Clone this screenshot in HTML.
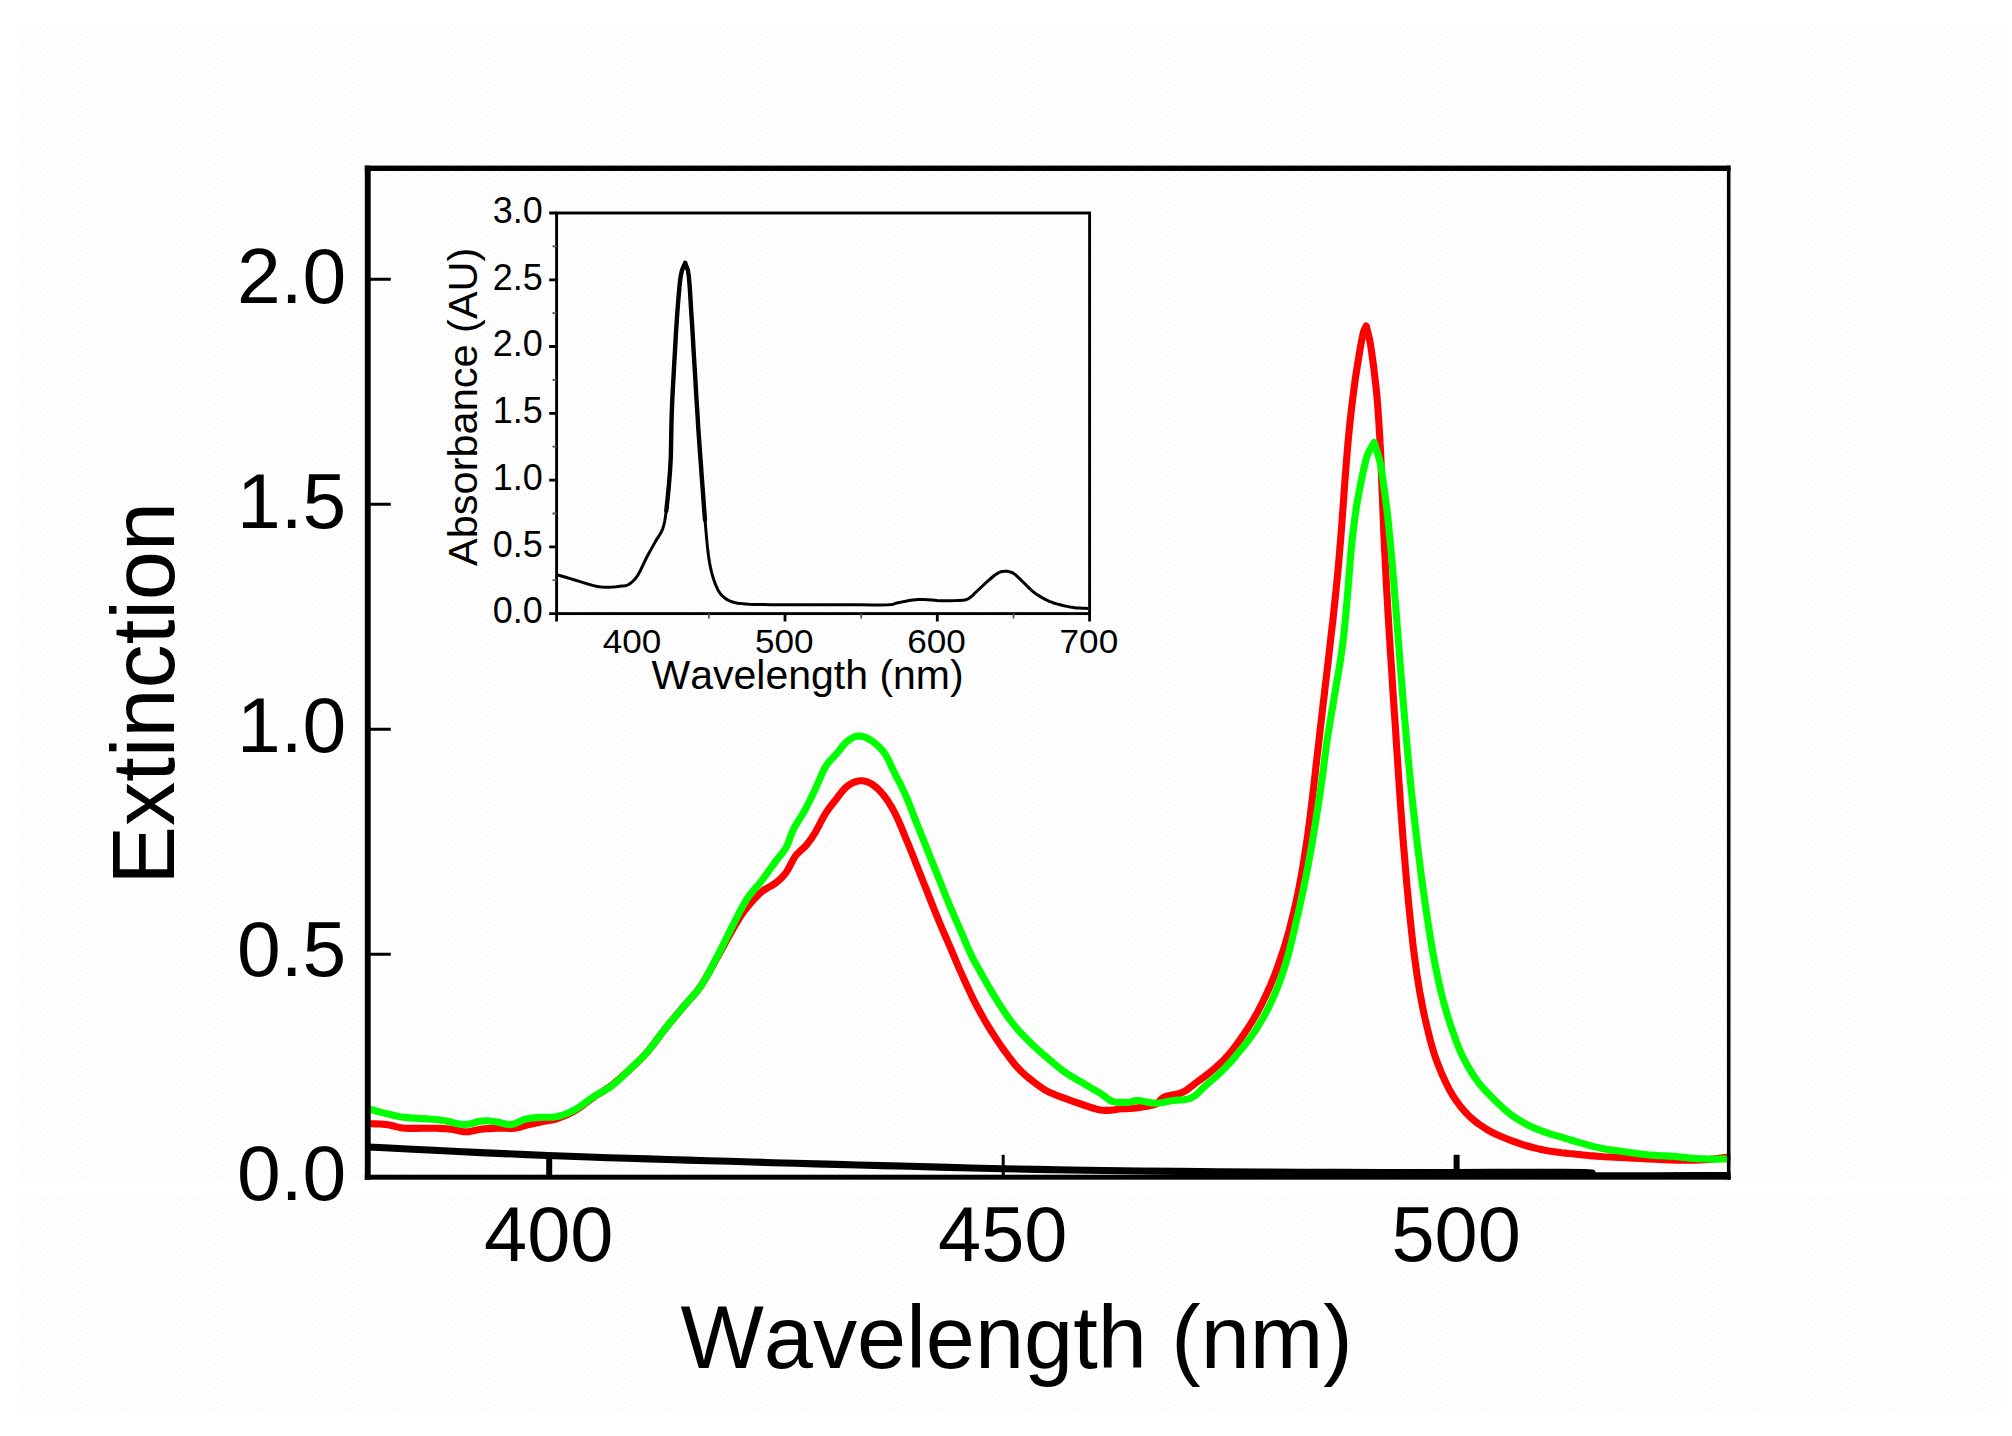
<!DOCTYPE html>
<html lang="en"><head><meta charset="utf-8"><title>Extinction spectra</title>
<style>html,body{margin:0;padding:0;background:#fff;overflow:hidden}body{width:2012px;height:1436px}</style></head>
<body>
<svg width="2012" height="1436" viewBox="0 0 2012 1436" style="display:block">
<rect x="0" y="0" width="2012" height="1436" fill="#ffffff"/>
<defs><clipPath id="pc"><rect x="368" y="168" width="1362.5" height="1011"/></clipPath><pattern id="dz" width="17" height="12" patternUnits="userSpaceOnUse"><rect x="2" y="1" width="1" height="1" fill="#fce2e2"/><rect x="10" y="7" width="1" height="1" fill="#fce2e2"/><rect x="14" y="3" width="1" height="1" fill="#fdeaea"/><rect x="6" y="10" width="1" height="1" fill="#fdeaea"/><rect x="6" y="4" width="1" height="1" fill="#d8f7fc"/><rect x="12" y="10" width="1" height="1" fill="#e2fafd"/></pattern></defs>
<rect x="17" y="24" width="1985" height="1387" fill="#fefefe"/>
<rect x="17" y="24" width="1985" height="1387" fill="url(#dz)"/>
<rect x="17" y="1181" width="1985" height="16" fill="#ffffff"/>
<rect x="546.2" y="1154.8" width="6.0" height="22" fill="#000"/>
<rect x="1001.7" y="1154.8" width="3.0" height="22" fill="#000"/>
<rect x="1453.6" y="1154.8" width="6.0" height="22" fill="#000"/>
<path d="M368.2 279.25 H390.8 M368.2 504.25 H390.8 M368.2 729.25 H390.8 M368.2 954.25 H390.8" stroke="#000" stroke-width="3.2" fill="none"/>
<g clip-path="url(#pc)" fill="none" stroke-linejoin="round" stroke-linecap="butt">
<path d="M364.0 1146.8 L363.0 1146.7 L360.6 1146.6 L361.0 1146.6 L368.0 1147.0 L384.5 1147.8 L407.6 1149.0 L433.5 1150.3 L458.0 1151.5 L480.7 1152.6 L503.6 1153.6 L526.2 1154.6 L548.0 1155.5 L568.7 1156.3 L588.6 1157.0 L608.2 1157.7 L628.0 1158.3 L647.8 1158.9 L667.6 1159.5 L687.5 1160.1 L708.0 1160.7 L729.3 1161.3 L751.1 1162.0 L773.1 1162.7 L795.0 1163.3 L816.0 1163.9 L836.4 1164.4 L857.9 1165.0 L882.0 1165.6 L909.5 1166.3 L939.4 1167.1 L970.8 1168.0 L1003.0 1168.7 L1035.6 1169.4 L1069.1 1170.0 L1103.8 1170.5 L1140.0 1171.0 L1178.5 1171.4 L1218.8 1171.8 L1259.7 1172.1 L1300.0 1172.3 L1340.1 1172.4 L1380.5 1172.5 L1419.9 1172.5 L1457.0 1172.5 L1493.9 1172.4 L1530.4 1172.3 L1562.2 1172.3 L1585.0 1172.5 L1592.1 1173.1 L1587.6 1174.0 L1583.6 1174.9 L1592.0 1175.5 L1618.0 1175.7 L1654.6 1175.7 L1695.3 1175.6 L1734.0 1175.5" stroke="#000" stroke-width="7.1"/>
<path d="M364.0 1123.5 L365.0 1123.5 L365.8 1123.5 L366.7 1123.6 L368.0 1123.6 L369.9 1123.7 L372.6 1123.8 L375.9 1123.9 L379.5 1124.0 L383.3 1124.2 L386.9 1124.6 L390.3 1125.2 L393.6 1126.0 L397.0 1126.9 L400.7 1127.7 L404.9 1128.2 L409.9 1128.4 L415.5 1128.4 L421.3 1128.3 L426.9 1128.2 L431.9 1128.2 L436.1 1128.3 L439.8 1128.4 L443.2 1128.6 L446.5 1128.8 L449.8 1129.1 L453.2 1129.6 L456.4 1130.3 L459.6 1131.0 L462.8 1131.6 L466.0 1131.8 L469.2 1131.6 L472.4 1131.0 L475.5 1130.3 L478.8 1129.6 L482.1 1129.1 L485.6 1128.8 L489.3 1128.6 L493.1 1128.4 L496.7 1128.3 L500.1 1128.2 L503.2 1128.2 L506.1 1128.3 L508.9 1128.4 L511.7 1128.4 L514.5 1128.2 L517.4 1127.7 L520.4 1127.0 L523.3 1126.1 L526.1 1125.3 L528.9 1124.6 L531.5 1124.0 L533.9 1123.5 L536.2 1123.0 L538.7 1122.5 L541.4 1121.9 L544.4 1121.3 L547.5 1120.8 L550.8 1120.2 L554.2 1119.5 L557.6 1118.5 L561.1 1117.2 L564.7 1115.8 L568.3 1114.2 L572.0 1112.3 L575.6 1110.3 L579.2 1108.0 L582.8 1105.4 L586.3 1102.6 L589.9 1099.9 L593.5 1097.3 L597.1 1094.9 L600.7 1092.7 L604.3 1090.4 L607.9 1088.1 L611.5 1085.5 L615.1 1082.6 L618.7 1079.6 L622.2 1076.4 L625.8 1073.1 L629.4 1069.8 L633.0 1066.4 L636.6 1063.1 L640.2 1059.6 L643.8 1055.9 L647.4 1051.9 L651.0 1047.5 L654.6 1042.8 L658.2 1038.0 L661.8 1033.2 L665.4 1028.5 L669.0 1024.1 L672.6 1019.7 L676.1 1015.4 L679.7 1011.2 L683.3 1006.9 L686.9 1002.7 L690.6 998.7 L694.2 994.6 L697.8 990.2 L701.3 985.4 L704.7 980.0 L708.1 974.1 L711.5 968.0 L714.8 961.9 L718.0 956.0 L721.2 950.2 L724.5 944.2 L727.6 938.4 L730.7 932.9 L733.5 928.0 L736.0 923.8 L738.2 920.1 L740.3 916.7 L742.5 913.4 L745.0 910.0 L748.0 906.3 L751.2 902.4 L754.6 898.7 L757.9 895.2 L761.1 892.2 L764.1 889.9 L767.1 888.1 L770.0 886.5 L772.8 885.0 L775.4 883.2 L777.8 881.2 L780.1 879.3 L782.2 877.2 L784.2 874.9 L786.2 872.4 L788.1 869.4 L789.8 866.1 L791.6 862.6 L793.3 859.3 L795.2 856.3 L797.3 853.8 L799.5 851.7 L801.7 849.7 L803.9 847.7 L806.0 845.5 L807.9 843.2 L809.6 840.9 L811.4 838.5 L813.1 835.9 L815.0 832.9 L817.0 829.3 L819.2 825.3 L821.3 821.0 L823.5 816.9 L825.7 813.2 L827.9 810.0 L830.0 807.0 L832.2 804.2 L834.3 801.5 L836.5 798.8 L838.6 796.0 L840.7 793.3 L842.9 790.6 L845.0 788.2 L847.3 786.2 L849.7 784.5 L852.2 783.1 L854.8 782.0 L857.4 781.2 L859.9 780.8 L862.4 780.8 L864.9 781.2 L867.4 781.9 L869.9 783.0 L872.4 784.4 L874.9 786.3 L877.5 788.5 L880.1 791.1 L882.6 794.0 L885.0 797.0 L887.3 800.1 L889.4 803.5 L891.6 807.0 L893.7 810.9 L895.8 815.0 L898.0 819.5 L900.1 824.4 L902.3 829.6 L904.4 834.9 L906.6 840.1 L908.8 845.4 L910.9 850.7 L913.1 856.1 L915.2 861.6 L917.4 867.0 L919.5 872.4 L921.7 877.8 L923.8 883.2 L926.0 888.6 L928.1 894.0 L930.2 899.4 L932.4 904.8 L934.5 910.1 L936.7 915.6 L938.9 921.0 L941.2 926.5 L943.6 932.1 L946.1 937.8 L948.5 943.3 L950.8 948.7 L953.0 953.8 L955.0 958.7 L957.1 963.6 L959.2 968.6 L961.6 973.9 L964.2 979.7 L967.1 986.0 L970.0 992.3 L973.0 998.6 L975.9 1004.4 L978.8 1009.8 L981.7 1015.0 L984.5 1020.0 L987.4 1024.9 L990.3 1029.6 L993.2 1034.2 L996.1 1038.6 L998.9 1042.9 L1001.8 1047.1 L1004.7 1051.1 L1007.6 1055.0 L1010.4 1058.8 L1013.3 1062.5 L1016.1 1065.9 L1019.0 1069.1 L1021.9 1072.0 L1024.8 1074.7 L1027.6 1077.1 L1030.5 1079.4 L1033.4 1081.7 L1036.2 1083.9 L1039.0 1085.9 L1041.8 1087.9 L1044.7 1089.8 L1047.8 1091.5 L1051.2 1093.1 L1054.7 1094.6 L1058.4 1096.0 L1062.1 1097.4 L1065.7 1098.7 L1069.4 1100.0 L1073.1 1101.4 L1076.8 1102.7 L1080.3 1103.9 L1083.7 1105.0 L1086.9 1106.1 L1089.9 1107.1 L1092.8 1108.0 L1095.5 1108.9 L1098.1 1109.5 L1100.5 1109.9 L1102.7 1110.2 L1104.8 1110.4 L1106.8 1110.4 L1108.9 1110.4 L1110.9 1110.3 L1112.8 1110.0 L1114.8 1109.7 L1117.0 1109.3 L1119.6 1109.0 L1122.7 1108.8 L1126.3 1108.6 L1130.0 1108.4 L1133.9 1108.1 L1137.6 1107.7 L1141.3 1107.2 L1145.2 1106.6 L1149.1 1105.9 L1152.6 1105.1 L1155.6 1104.1 L1157.8 1102.8 L1159.4 1101.3 L1160.7 1099.8 L1162.3 1098.2 L1164.5 1096.9 L1167.6 1095.9 L1171.3 1095.1 L1175.3 1094.4 L1179.1 1093.5 L1182.5 1092.4 L1185.3 1090.9 L1187.8 1089.2 L1190.2 1087.4 L1192.6 1085.5 L1195.1 1083.5 L1197.8 1081.5 L1200.6 1079.5 L1203.5 1077.4 L1206.4 1075.1 L1209.4 1072.7 L1212.5 1070.1 L1215.8 1067.4 L1219.0 1064.5 L1222.2 1061.5 L1225.2 1058.5 L1228.0 1055.4 L1230.7 1052.2 L1233.3 1048.9 L1235.8 1045.5 L1238.3 1042.1 L1240.8 1038.6 L1243.3 1035.0 L1245.7 1031.4 L1248.2 1027.7 L1250.5 1024.0 L1252.8 1020.3 L1255.0 1016.5 L1257.2 1012.7 L1259.3 1008.7 L1261.5 1004.5 L1263.7 1000.0 L1265.9 995.4 L1268.1 990.5 L1270.3 985.6 L1272.4 980.5 L1274.5 975.3 L1276.5 970.0 L1278.4 964.6 L1280.3 959.1 L1282.2 953.5 L1284.0 948.0 L1285.7 942.5 L1287.3 936.9 L1289.0 930.9 L1290.6 924.5 L1292.4 917.5 L1294.2 910.0 L1296.0 902.2 L1297.7 894.2 L1299.3 886.2 L1300.8 878.1 L1302.3 869.8 L1303.7 861.4 L1305.0 853.1 L1306.3 844.9 L1307.5 836.7 L1308.6 828.6 L1309.6 820.5 L1310.6 812.7 L1311.5 805.4 L1312.3 798.7 L1313.0 792.7 L1313.7 786.8 L1314.3 780.9 L1315.1 774.5 L1315.8 767.8 L1316.6 760.9 L1317.4 753.8 L1318.3 746.4 L1319.2 738.6 L1320.1 730.2 L1321.2 721.3 L1322.2 712.1 L1323.3 702.8 L1324.4 693.7 L1325.4 684.7 L1326.5 675.7 L1327.5 666.8 L1328.6 657.8 L1329.6 648.8 L1330.6 639.9 L1331.6 631.0 L1332.7 622.1 L1333.6 613.1 L1334.6 603.9 L1335.6 594.3 L1336.6 584.3 L1337.6 574.3 L1338.5 564.6 L1339.3 555.4 L1340.0 546.8 L1340.7 538.7 L1341.3 530.8 L1341.9 523.2 L1342.4 515.6 L1343.0 508.2 L1343.5 500.9 L1344.0 493.8 L1344.5 486.7 L1345.0 479.6 L1345.6 472.4 L1346.1 465.2 L1346.7 458.1 L1347.3 450.9 L1347.9 443.7 L1348.6 436.5 L1349.3 429.3 L1350.0 422.2 L1350.8 415.0 L1351.6 407.8 L1352.5 400.6 L1353.4 393.4 L1354.3 386.3 L1355.3 379.1 L1356.4 371.9 L1357.6 364.3 L1358.9 356.3 L1360.2 348.4 L1361.5 341.4 L1362.6 335.9 L1363.5 332.2 L1364.2 330.1 L1364.9 328.7 L1365.5 327.6 L1366.2 326.0 L1367.1 329.5 L1367.9 332.7 L1368.8 336.1 L1369.7 340.0 L1370.6 344.9 L1371.5 351.1 L1372.5 358.5 L1373.6 366.3 L1374.5 373.9 L1375.3 380.8 L1376.0 386.6 L1376.5 391.8 L1377.0 396.8 L1377.4 402.0 L1377.9 407.8 L1378.3 414.7 L1378.9 422.4 L1379.3 430.2 L1379.8 437.5 L1380.1 443.7 L1380.4 447.9 L1380.5 450.5 L1380.6 452.8 L1380.8 456.1 L1381.0 461.7 L1381.3 470.4 L1381.7 481.3 L1382.2 493.2 L1382.7 505.1 L1383.1 515.6 L1383.5 524.6 L1383.8 532.8 L1384.2 540.6 L1384.5 548.5 L1385.0 556.9 L1385.4 566.0 L1385.9 575.4 L1386.4 585.0 L1387.0 594.5 L1387.5 603.9 L1388.0 613.0 L1388.6 622.0 L1389.1 630.9 L1389.7 639.9 L1390.2 648.8 L1390.8 657.8 L1391.4 666.8 L1392.0 675.7 L1392.5 684.7 L1393.1 693.7 L1393.7 702.8 L1394.3 712.1 L1395.0 721.3 L1395.6 730.2 L1396.1 738.6 L1396.6 746.4 L1397.1 753.8 L1397.6 760.8 L1398.0 767.7 L1398.5 774.5 L1398.9 781.1 L1399.4 787.4 L1399.8 793.7 L1400.2 800.1 L1400.7 806.9 L1401.2 814.1 L1401.8 821.5 L1402.3 829.2 L1402.9 837.0 L1403.5 844.9 L1404.2 853.0 L1404.9 861.3 L1405.6 869.7 L1406.3 878.0 L1407.0 886.2 L1407.8 894.3 L1408.5 902.3 L1409.3 910.2 L1410.1 918.1 L1410.9 925.7 L1411.7 933.1 L1412.5 940.3 L1413.3 947.4 L1414.2 954.5 L1415.2 961.7 L1416.2 969.1 L1417.3 976.7 L1418.5 984.2 L1419.7 991.6 L1421.0 998.5 L1422.2 1005.0 L1423.4 1011.1 L1424.7 1017.0 L1426.0 1022.7 L1427.4 1028.5 L1428.8 1034.2 L1430.2 1039.8 L1431.7 1045.4 L1433.3 1050.9 L1435.1 1056.5 L1437.2 1062.2 L1439.5 1068.1 L1441.9 1074.0 L1444.4 1079.5 L1446.7 1084.4 L1448.9 1088.7 L1450.9 1092.4 L1453.0 1095.8 L1455.1 1099.1 L1457.5 1102.4 L1460.1 1105.8 L1462.8 1109.2 L1465.7 1112.5 L1468.7 1115.6 L1471.9 1118.6 L1475.3 1121.4 L1478.8 1124.1 L1482.5 1126.6 L1486.2 1128.9 L1489.8 1131.1 L1493.4 1133.0 L1497.0 1134.7 L1500.6 1136.3 L1504.2 1137.8 L1507.8 1139.2 L1511.4 1140.6 L1515.0 1141.9 L1518.5 1143.2 L1522.1 1144.4 L1525.7 1145.5 L1529.3 1146.5 L1532.9 1147.5 L1536.5 1148.4 L1540.1 1149.2 L1543.7 1150.0 L1547.3 1150.7 L1550.9 1151.3 L1554.5 1151.8 L1558.1 1152.2 L1561.7 1152.7 L1565.3 1153.1 L1568.9 1153.5 L1572.4 1153.8 L1576.0 1154.2 L1579.6 1154.5 L1582.9 1154.9 L1585.9 1155.2 L1589.1 1155.6 L1592.9 1155.9 L1597.6 1156.3 L1603.6 1156.7 L1610.7 1157.0 L1618.3 1157.4 L1626.0 1157.7 L1633.5 1158.1 L1640.8 1158.5 L1648.1 1158.9 L1655.4 1159.3 L1662.6 1159.6 L1669.4 1159.9 L1675.9 1160.1 L1682.1 1160.2 L1688.2 1160.3 L1694.1 1160.2 L1700.0 1160.0 L1706.2 1159.6 L1712.7 1159.0 L1719.0 1158.3 L1724.5 1157.6 L1728.7 1157.2 L1731.3 1157.0 L1732.5 1156.9 L1733.0 1157.0 L1733.3 1157.0 L1734.0 1157.0" stroke="#ff0000" stroke-width="7.1"/>
<path d="M364.0 1108.5 L365.1 1108.6 L366.0 1108.7 L367.0 1108.8 L368.2 1109.0 L369.9 1109.3 L372.0 1109.8 L374.4 1110.5 L377.1 1111.3 L380.1 1112.1 L383.4 1112.9 L387.1 1113.8 L391.2 1114.8 L395.5 1115.8 L400.1 1116.7 L404.9 1117.4 L410.2 1117.9 L415.9 1118.3 L421.8 1118.6 L427.2 1118.9 L431.9 1119.2 L435.5 1119.5 L438.4 1119.8 L440.8 1120.2 L443.3 1120.5 L446.2 1121.0 L449.6 1121.7 L453.1 1122.7 L456.8 1123.6 L460.5 1124.3 L464.2 1124.6 L467.8 1124.3 L471.5 1123.5 L475.2 1122.5 L478.7 1121.5 L482.1 1121.0 L485.2 1120.9 L488.1 1120.9 L490.9 1121.2 L493.7 1121.5 L496.5 1121.9 L499.4 1122.5 L502.3 1123.2 L505.1 1124.0 L508.0 1124.5 L510.9 1124.6 L513.8 1124.0 L516.7 1122.9 L519.5 1121.5 L522.4 1120.2 L525.3 1119.2 L528.1 1118.6 L530.8 1118.2 L533.6 1117.9 L536.5 1117.6 L539.6 1117.4 L543.0 1117.3 L546.5 1117.3 L550.2 1117.3 L553.9 1117.1 L557.6 1116.5 L561.2 1115.5 L564.8 1114.3 L568.4 1112.9 L572.0 1111.2 L575.6 1109.3 L579.2 1107.1 L582.8 1104.6 L586.3 1101.9 L589.9 1099.3 L593.5 1096.8 L597.1 1094.6 L600.7 1092.6 L604.3 1090.6 L607.9 1088.5 L611.5 1086.0 L615.1 1083.1 L618.7 1080.0 L622.2 1076.7 L625.8 1073.2 L629.4 1069.8 L633.0 1066.4 L636.6 1063.0 L640.2 1059.5 L643.8 1055.9 L647.4 1051.9 L651.0 1047.5 L654.6 1042.8 L658.2 1038.0 L661.8 1033.2 L665.4 1028.5 L669.0 1024.1 L672.6 1019.7 L676.1 1015.4 L679.7 1011.2 L683.3 1006.9 L686.9 1002.7 L690.6 998.7 L694.2 994.6 L697.8 990.3 L701.3 985.4 L704.8 979.9 L708.2 973.8 L711.6 967.5 L714.8 961.1 L718.0 955.0 L721.0 949.1 L723.9 943.3 L726.7 937.6 L729.5 931.9 L732.3 926.3 L735.2 920.7 L738.1 915.0 L740.9 909.4 L743.8 904.2 L746.7 899.4 L749.6 895.3 L752.5 891.6 L755.3 888.3 L758.2 885.0 L761.1 881.4 L764.0 877.5 L767.0 873.4 L769.9 869.3 L772.8 865.3 L775.4 861.7 L777.8 858.5 L780.1 855.7 L782.3 853.1 L784.3 850.3 L786.2 847.3 L787.8 843.9 L789.2 840.4 L790.4 836.7 L791.8 833.0 L793.4 829.3 L795.3 825.8 L797.5 822.3 L799.7 818.8 L802.0 815.2 L804.2 811.4 L806.4 807.3 L808.5 803.1 L810.7 798.7 L812.8 794.3 L815.0 789.8 L817.1 785.1 L819.3 780.1 L821.4 775.1 L823.6 770.5 L825.7 766.5 L827.9 763.3 L830.0 760.7 L832.2 758.4 L834.3 756.2 L836.5 753.9 L838.6 751.3 L840.8 748.5 L842.9 745.8 L845.1 743.4 L847.3 741.3 L849.6 739.6 L851.8 738.1 L854.2 736.9 L856.5 736.2 L859.0 735.9 L861.6 736.2 L864.3 736.9 L867.0 738.1 L869.7 739.6 L872.4 741.3 L875.0 743.3 L877.7 745.6 L880.3 748.1 L882.7 750.9 L885.0 753.9 L887.0 757.1 L888.8 760.5 L890.4 764.2 L892.1 768.0 L894.0 771.9 L896.0 775.9 L898.2 780.0 L900.4 784.2 L902.6 788.7 L904.8 793.4 L907.0 798.4 L909.1 803.8 L911.3 809.3 L913.4 814.9 L915.6 820.4 L917.7 825.8 L919.9 831.2 L922.0 836.5 L924.2 841.9 L926.3 847.3 L928.5 852.7 L930.6 858.1 L932.8 863.4 L934.9 868.8 L937.1 874.2 L939.3 879.6 L941.4 885.1 L943.6 890.5 L945.7 895.9 L947.9 901.2 L950.0 906.3 L952.1 911.2 L954.3 916.1 L956.4 921.1 L958.7 926.3 L961.2 932.0 L963.8 938.2 L966.4 944.3 L968.9 950.1 L971.2 955.0 L973.0 958.8 L974.5 961.6 L975.9 964.1 L977.5 966.8 L979.5 970.3 L981.9 974.7 L984.6 979.5 L987.6 984.8 L990.7 990.1 L993.9 995.4 L997.3 1000.8 L1000.8 1006.4 L1004.5 1012.0 L1008.2 1017.4 L1011.9 1022.4 L1015.5 1026.9 L1019.1 1031.0 L1022.6 1034.8 L1026.2 1038.5 L1029.8 1042.1 L1033.4 1045.6 L1037.0 1048.9 L1040.6 1052.1 L1044.2 1055.2 L1047.8 1058.3 L1051.4 1061.4 L1055.0 1064.4 L1058.5 1067.3 L1062.1 1070.1 L1065.7 1072.7 L1069.3 1075.1 L1072.9 1077.3 L1076.5 1079.4 L1080.1 1081.4 L1083.7 1083.5 L1087.4 1085.7 L1091.3 1088.0 L1095.0 1090.2 L1098.6 1092.3 L1101.7 1094.2 L1104.2 1096.0 L1106.2 1097.6 L1108.1 1099.1 L1110.0 1100.4 L1112.4 1101.4 L1115.4 1102.0 L1118.8 1102.3 L1122.4 1102.4 L1125.7 1102.4 L1128.6 1102.3 L1130.7 1102.0 L1132.3 1101.6 L1133.7 1101.0 L1135.3 1100.6 L1137.6 1100.5 L1140.6 1100.8 L1144.2 1101.5 L1148.0 1102.3 L1151.9 1102.9 L1155.6 1103.2 L1159.2 1103.0 L1162.8 1102.5 L1166.3 1101.8 L1169.9 1101.1 L1173.5 1100.5 L1177.2 1100.1 L1180.9 1099.9 L1184.6 1099.6 L1188.1 1099.0 L1191.5 1097.8 L1194.6 1096.0 L1197.3 1093.7 L1200.1 1091.0 L1202.8 1088.2 L1205.9 1085.3 L1209.3 1082.3 L1212.9 1079.2 L1216.7 1075.9 L1220.4 1072.6 L1223.9 1069.1 L1227.3 1065.5 L1230.7 1061.9 L1233.9 1058.1 L1237.1 1054.3 L1240.2 1050.5 L1243.3 1046.7 L1246.3 1043.0 L1249.2 1039.1 L1252.1 1035.2 L1255.0 1031.0 L1257.8 1026.6 L1260.6 1021.9 L1263.4 1017.2 L1266.1 1012.3 L1268.6 1007.5 L1270.9 1002.7 L1273.1 997.8 L1275.2 993.0 L1277.2 988.0 L1279.1 983.0 L1281.0 978.0 L1282.7 973.0 L1284.3 967.9 L1286.0 962.6 L1287.6 957.0 L1289.2 951.2 L1290.7 945.2 L1292.2 939.0 L1293.7 932.5 L1295.3 925.6 L1297.0 918.3 L1298.8 910.5 L1300.6 902.5 L1302.3 894.3 L1304.0 886.2 L1305.7 878.0 L1307.3 869.7 L1308.8 861.4 L1310.3 853.1 L1311.8 844.9 L1313.2 836.7 L1314.5 828.6 L1315.8 820.5 L1317.0 812.7 L1318.2 805.4 L1319.2 798.7 L1320.1 792.7 L1321.0 786.8 L1321.8 780.9 L1322.7 774.5 L1323.6 767.8 L1324.4 760.9 L1325.3 753.8 L1326.2 746.4 L1327.3 738.6 L1328.7 730.2 L1330.1 721.3 L1331.7 712.1 L1333.3 702.8 L1334.8 693.7 L1336.3 684.7 L1337.9 675.7 L1339.4 666.8 L1340.8 657.8 L1342.1 648.8 L1343.2 639.9 L1344.2 630.9 L1345.1 622.0 L1345.9 613.0 L1346.8 603.9 L1347.6 594.3 L1348.4 584.1 L1349.2 574.1 L1349.9 564.8 L1350.6 556.9 L1351.1 550.8 L1351.6 546.0 L1352.0 542.0 L1352.4 538.0 L1352.9 533.5 L1353.5 528.3 L1354.2 523.0 L1354.9 517.5 L1355.7 512.0 L1356.5 506.6 L1357.4 501.1 L1358.4 495.6 L1359.4 490.1 L1360.5 484.8 L1361.6 479.6 L1362.6 474.6 L1363.6 469.6 L1364.7 464.8 L1365.8 460.3 L1367.0 456.3 L1368.3 452.9 L1369.8 450.1 L1371.2 447.6 L1372.7 445.1 L1374.2 442.5 L1375.4 446.4 L1376.6 450.2 L1377.8 454.1 L1378.9 457.9 L1379.9 461.7 L1380.7 465.2 L1381.3 468.5 L1381.8 471.8 L1382.3 475.5 L1382.9 479.6 L1383.6 484.4 L1384.3 489.7 L1385.1 495.4 L1385.8 501.1 L1386.5 506.6 L1387.2 512.0 L1387.8 517.5 L1388.4 523.0 L1388.9 528.3 L1389.4 533.5 L1389.9 538.0 L1390.3 542.0 L1390.6 546.0 L1391.1 550.8 L1391.6 556.9 L1392.3 564.8 L1393.1 574.1 L1393.9 584.1 L1394.7 594.3 L1395.5 603.9 L1396.2 613.0 L1396.9 622.0 L1397.6 630.9 L1398.3 639.9 L1399.0 648.8 L1399.7 657.8 L1400.4 666.8 L1401.1 675.7 L1401.9 684.7 L1402.6 693.7 L1403.3 702.8 L1404.1 712.1 L1404.9 721.3 L1405.7 730.2 L1406.4 738.6 L1407.1 746.4 L1407.8 753.8 L1408.4 760.8 L1409.1 767.7 L1409.8 774.5 L1410.4 781.1 L1411.0 787.4 L1411.7 793.7 L1412.4 800.1 L1413.1 806.9 L1413.9 814.1 L1414.7 821.5 L1415.6 829.2 L1416.5 837.0 L1417.4 844.9 L1418.4 853.0 L1419.5 861.3 L1420.5 869.7 L1421.6 878.0 L1422.7 886.2 L1423.9 894.3 L1425.0 902.3 L1426.1 910.2 L1427.3 918.1 L1428.5 925.7 L1429.6 933.1 L1430.8 940.3 L1432.0 947.4 L1433.2 954.5 L1434.6 961.7 L1436.0 969.1 L1437.6 976.6 L1439.2 984.1 L1441.0 991.5 L1442.7 998.5 L1444.5 1005.3 L1446.4 1011.8 L1448.3 1018.2 L1450.3 1024.3 L1452.3 1030.2 L1454.3 1035.8 L1456.2 1041.2 L1458.2 1046.4 L1460.3 1051.5 L1462.7 1056.5 L1465.3 1061.6 L1468.1 1066.7 L1471.1 1071.6 L1474.1 1076.4 L1477.2 1080.8 L1480.3 1084.8 L1483.5 1088.5 L1486.7 1092.0 L1490.0 1095.4 L1493.4 1098.8 L1496.9 1102.2 L1500.5 1105.7 L1504.1 1109.0 L1507.8 1112.1 L1511.4 1115.0 L1515.0 1117.5 L1518.6 1119.8 L1522.1 1121.9 L1525.7 1123.9 L1529.3 1125.7 L1532.9 1127.4 L1536.5 1128.9 L1540.1 1130.3 L1543.7 1131.6 L1547.3 1132.9 L1550.9 1134.1 L1554.5 1135.2 L1558.1 1136.2 L1561.7 1137.2 L1565.3 1138.3 L1568.9 1139.4 L1572.5 1140.5 L1576.0 1141.6 L1579.6 1142.7 L1583.2 1143.7 L1586.8 1144.7 L1590.4 1145.7 L1594.0 1146.6 L1597.6 1147.4 L1601.2 1148.2 L1604.8 1148.9 L1608.4 1149.4 L1612.0 1149.9 L1615.6 1150.4 L1619.2 1150.9 L1622.8 1151.5 L1626.4 1152.0 L1629.9 1152.6 L1633.5 1153.1 L1637.1 1153.6 L1640.7 1154.0 L1644.3 1154.4 L1647.9 1154.8 L1651.5 1155.1 L1655.1 1155.4 L1658.7 1155.6 L1662.3 1155.8 L1665.8 1155.9 L1669.4 1156.1 L1673.0 1156.3 L1676.6 1156.6 L1680.2 1157.0 L1683.8 1157.4 L1687.4 1157.8 L1691.0 1158.1 L1694.6 1158.4 L1698.1 1158.6 L1701.7 1158.7 L1705.3 1158.9 L1709.0 1159.0 L1713.1 1159.1 L1717.4 1159.1 L1721.8 1159.0 L1725.7 1159.0 L1728.7 1159.0 L1730.7 1159.0 L1731.9 1159.0 L1732.6 1159.0 L1733.2 1159.0 L1734.0 1159.0" stroke="#00ff00" stroke-width="7.1"/>
</g>
<g fill="#000">
<rect x="364.8" y="165.6" width="5.9" height="1014"/>
<rect x="364.8" y="165.6" width="1365.7" height="5.4"/>
<rect x="1726.9" y="165.6" width="3.6" height="1014"/>
<rect x="364.8" y="1174.7" width="1365.7" height="5.0"/>
</g>
<g font-family="'Liberation Sans', Arial, sans-serif" fill="#000" style="font-kerning:none">
<text x="346.2" y="303.2" font-size="77.5" textLength="109.2" lengthAdjust="spacingAndGlyphs" text-anchor="end">2.0</text>
<text x="346.2" y="528.0" font-size="77.5" textLength="109.2" lengthAdjust="spacingAndGlyphs" text-anchor="end">1.5</text>
<text x="346.2" y="752.0" font-size="77.5" textLength="109.2" lengthAdjust="spacingAndGlyphs" text-anchor="end">1.0</text>
<text x="346.2" y="976.2" font-size="77.5" textLength="109.2" lengthAdjust="spacingAndGlyphs" text-anchor="end">0.5</text>
<text x="346.2" y="1199.9" font-size="77.5" textLength="109.2" lengthAdjust="spacingAndGlyphs" text-anchor="end">0.0</text>
<text x="548.7" y="1260.8" font-size="77.5" text-anchor="middle">400</text>
<text x="1002.7" y="1260.8" font-size="77.5" text-anchor="middle">450</text>
<text x="1456.1" y="1260.8" font-size="77.5" text-anchor="middle">500</text>
<text x="680.5" y="1367.6" font-size="88.3">Wavelength (nm)</text>
<text transform="translate(174.3 884.8) rotate(-90)" font-size="88.3">Extinction</text>
</g>
<rect x="556.6" y="213.0" width="532.9999999999999" height="400.6" fill="none" stroke="#000" stroke-width="2.9"/>
<path d="M556.6 613.6 H549.2 M556.6 546.8 H549.2 M556.6 480.1 H549.2 M556.6 413.3 H549.2 M556.6 346.5 H549.2 M556.6 279.8 H549.2 M556.6 213.0 H549.2 M556.6 613.6 V621.5 M785.0 613.6 V621.5 M937.3 613.6 V621.5 M1089.6 613.6 V621.5" stroke="#000" stroke-width="2.8" fill="none"/>
<path d="M556.6 580.2 H552.5 M556.6 513.5 H552.5 M556.6 446.7 H552.5 M556.6 379.9 H552.5 M556.6 313.2 H552.5 M556.6 246.4 H552.5 M708.9 613.6 V618.5 M861.2 613.6 V618.5 M1013.5 613.6 V618.5" stroke="#555" stroke-width="1.8" fill="none"/>
<path d="M556.8 574.6 L561.3 576.0 L565.7 577.3 L570.2 578.6 L574.7 580.0 L579.3 581.4 L584.0 582.9 L588.6 584.3 L592.7 585.4 L596.2 586.2 L599.2 586.7 L602.2 587.0 L605.3 587.2 L608.9 587.2 L612.7 587.0 L616.4 586.7 L619.6 586.3 L622.2 586.1 L624.4 585.9 L626.5 585.5 L628.6 584.5 L630.9 583.0 L633.1 581.0 L635.4 578.6 L637.6 575.5 L639.9 571.6 L642.1 566.9 L644.4 562.1 L646.6 557.5 L648.9 553.3 L651.2 549.1 L653.4 545.1 L655.5 541.4 L657.5 538.1 L659.4 535.2 L661.2 532.2 L662.7 528.8 L663.9 524.9 L664.8 520.7 L665.5 516.1 L666.3 510.8 L667.1 504.7 L667.8 497.9 L668.4 490.8 L669.0 483.9 L669.5 477.5 L670.0 471.4 L670.4 464.7 L670.8 456.9 L671.0 447.7 L671.2 437.4 L671.4 426.3 L671.7 414.5 L672.2 401.6 L672.9 387.7 L673.7 373.7 L674.4 360.6 L675.1 348.6 L675.7 337.3 L676.4 326.3 L677.1 315.7 L677.9 304.8 L678.8 294.0 L679.7 284.1 L680.7 276.2 L681.8 271.0 L682.9 267.9 L684.1 265.5 L685.2 262.8 L686.1 265.5 L687.1 267.9 L688.0 271.0 L688.8 276.2 L689.5 284.1 L690.2 294.0 L690.8 304.8 L691.5 315.7 L692.2 326.5 L692.9 337.8 L693.5 349.2 L694.2 360.6 L694.9 371.9 L695.6 383.3 L696.2 394.6 L696.9 405.6 L697.6 416.3 L698.2 426.8 L698.9 437.0 L699.6 446.9 L700.3 456.5 L701.0 465.7 L701.6 474.8 L702.3 483.9 L703.0 493.0 L703.6 501.9 L704.3 510.9 L705.0 519.8 L705.8 529.1 L706.6 538.6 L707.5 547.7 L708.5 555.7 L709.5 562.2 L710.5 567.7 L711.7 572.6 L713.0 577.3 L714.5 581.9 L716.2 586.2 L718.1 590.2 L720.2 593.5 L722.6 596.2 L725.2 598.4 L728.0 600.1 L731.0 601.5 L734.3 602.5 L737.8 603.2 L741.5 603.6 L745.4 603.9 L749.2 604.2 L753.0 604.4 L757.5 604.5 L763.3 604.6 L770.7 604.7 L779.2 604.7 L788.8 604.7 L799.3 604.7 L811.2 604.7 L824.5 604.8 L837.9 604.8 L850.0 604.8 L861.0 604.8 L871.5 604.9 L880.7 604.9 L887.8 604.8 L891.9 604.5 L893.7 604.1 L894.7 603.6 L896.8 603.0 L900.5 602.3 L904.7 601.4 L909.1 600.6 L912.9 600.0 L915.8 599.7 L918.2 599.5 L920.6 599.4 L923.7 599.5 L927.7 599.7 L932.3 600.1 L937.0 600.5 L941.7 600.7 L946.4 600.8 L951.2 600.7 L955.8 600.6 L959.6 600.4 L962.5 600.2 L964.7 600.0 L966.6 599.5 L968.6 598.6 L970.8 597.1 L973.0 595.1 L975.2 592.8 L977.6 590.5 L980.2 588.1 L983.0 585.5 L985.8 582.9 L988.4 580.6 L990.8 578.5 L993.1 576.5 L995.3 574.8 L997.4 573.4 L999.3 572.4 L1000.9 571.8 L1002.6 571.4 L1004.5 571.3 L1006.6 571.3 L1008.8 571.6 L1011.1 572.2 L1013.5 573.4 L1016.1 575.3 L1018.8 577.9 L1021.6 580.6 L1024.3 583.3 L1026.9 585.8 L1029.5 588.4 L1032.2 590.9 L1035.1 593.2 L1038.4 595.4 L1042.0 597.6 L1045.7 599.6 L1049.4 601.3 L1053.0 602.7 L1056.7 603.9 L1060.3 604.8 L1063.8 605.7 L1067.1 606.4 L1070.3 607.0 L1073.4 607.5 L1076.4 607.9 L1079.4 608.1 L1082.3 608.3 L1085.1 608.3 L1088.0 608.4" stroke="#000" stroke-width="3" fill="none" stroke-linejoin="round"/>
<path d="M666.3 510.8 L667.0 504.1 L667.7 497.4 L668.4 490.6 L669.0 483.9 L669.5 477.5 L670.0 471.4 L670.4 464.7 L670.8 456.9 L671.0 447.7 L671.2 437.4 L671.4 426.3 L671.7 414.5 L672.2 401.6 L672.9 387.7 L673.7 373.7 L674.4 360.6 L675.1 348.6 L675.7 337.3 L676.4 326.3 L677.1 315.7 L677.9 304.8 L678.8 294.0 L679.7 284.1 L680.7 276.2 L681.8 271.0 L682.9 267.9 L684.1 265.5 L685.2 262.8 L686.1 265.5 L687.1 267.9 L688.0 271.0 L688.8 276.2 L689.5 284.1 L690.2 294.0 L690.8 304.8 L691.5 315.7 L692.2 326.5 L692.9 337.8 L693.5 349.2 L694.2 360.6 L694.9 371.9 L695.6 383.3 L696.2 394.6 L696.9 405.6 L697.6 416.3 L698.2 426.8 L698.9 437.0 L699.6 446.9 L700.3 456.5 L701.0 465.7 L701.6 474.8 L702.3 483.9 L703.0 493.0 L703.6 501.9 L704.3 510.9 L705.0 519.8" stroke="#000" stroke-width="4.4" fill="none" stroke-linejoin="round" stroke-linecap="round"/>
<g font-family="'Liberation Sans', Arial, sans-serif" fill="#000" style="font-kerning:none">
<text x="542.7" y="623.3" font-size="36" text-anchor="end">0.0</text>
<text x="542.7" y="556.5" font-size="36" text-anchor="end">0.5</text>
<text x="542.7" y="489.8" font-size="36" text-anchor="end">1.0</text>
<text x="542.7" y="423.0" font-size="36" text-anchor="end">1.5</text>
<text x="542.7" y="356.2" font-size="36" text-anchor="end">2.0</text>
<text x="542.7" y="289.5" font-size="36" text-anchor="end">2.5</text>
<text x="542.7" y="222.7" font-size="36" text-anchor="end">3.0</text>
<text x="632.0" y="652.6" font-size="32.3" textLength="58.6" lengthAdjust="spacingAndGlyphs" text-anchor="middle">400</text>
<text x="784.3" y="652.6" font-size="32.3" textLength="58.6" lengthAdjust="spacingAndGlyphs" text-anchor="middle">500</text>
<text x="936.6" y="652.6" font-size="32.3" textLength="58.6" lengthAdjust="spacingAndGlyphs" text-anchor="middle">600</text>
<text x="1088.9" y="652.6" font-size="32.3" textLength="58.6" lengthAdjust="spacingAndGlyphs" text-anchor="middle">700</text>
<text x="651.5" y="689.3" font-size="41">Wavelength (nm)</text>
<text transform="translate(476.8 565.9) rotate(-90)" font-size="41.5">Absorbance (AU)</text>
</g>
</svg>
</body></html>
